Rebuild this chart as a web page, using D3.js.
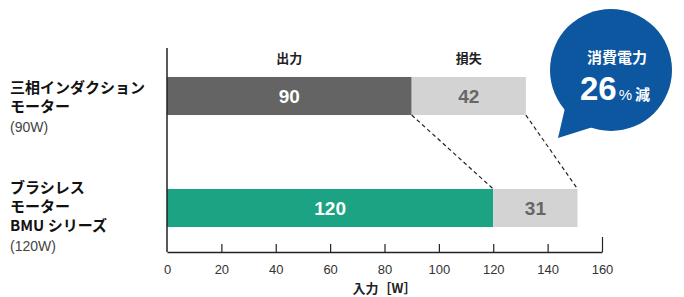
<!DOCTYPE html>
<html lang="ja">
<head>
<meta charset="UTF-8">
<title>消費電力比較</title>
<script src="https://d3js.org/d3.v7.min.js"></script>
<style>
  body { margin: 0; background: #fff; }
  svg { display: block; }
</style>
</head>
<body>
<svg></svg>
<script>
// Data

const motors = ['induction', 'bmu'];
const motorLabels = [
  ['三相インダクション', 'モーター'],
  ['ブラシレス', 'モーター', 'BMU シリーズ']
];
const ratedLabels = ['(90W)', '(120W)'];
const outputW = [90, 120];
const lossW = [42, 31];
const xTicks = [0, 20, 40, 60, 80, 100, 120, 140, 160];
const seriesNames = ['出力', '損失'];
const reduction = 26;

// Layout

const width = 684, height = 297;
const JP = '"Noto Sans CJK JP", "Noto Sans", sans-serif';
const NUM = '"Liberation Sans", Arial, sans-serif';

const svg = d3.select('svg')
  .attr('width', width)
  .attr('height', height);

const x = d3.scaleLinear().domain([0, 160]).range([167, 602]);
const y = d3.scaleBand()
  .domain(motors)
  .range([40, 264])
  .paddingInner(0.66)
  .paddingOuter(0.33);

const axisY = 252;

// Bars

const rows = motors.map((m, i) => ({ id: m, out: outputW[i], loss: lossW[i], i }));
const outColors = ['#636463', '#1ba383'];

const g = svg.append('g');

g.selectAll('rect.out')
  .data(rows)
  .join('rect')
    .attr('class', 'out')
    .attr('x', x(0))
    .attr('y', d => y(d.id))
    .attr('width', d => x(d.out) - x(0))
    .attr('height', y.bandwidth())
    .attr('fill', d => outColors[d.i]);

g.selectAll('rect.loss')
  .data(rows)
  .join('rect')
    .attr('class', 'loss')
    .attr('x', d => x(d.out))
    .attr('y', d => y(d.id))
    .attr('width', d => x(d.out + d.loss) - x(d.out))
    .attr('height', y.bandwidth())
    .attr('fill', '#d3d3d3');

// Bar values

g.selectAll('text.outv')
  .data(rows)
  .join('text')
    .attr('x', d => (x(0) + x(d.out)) / 2)
    .attr('y', d => y(d.id) + y.bandwidth() / 2)
    .attr('dy', '0.36em')
    .attr('text-anchor', 'middle')
    .attr('fill', '#fff')
    .style('font', `bold 19px ${NUM}`)
    .text(d => d.out);

g.selectAll('text.lossv')
  .data(rows)
  .join('text')
    .attr('x', d => (x(d.out) + x(d.out + d.loss)) / 2)
    .attr('y', d => y(d.id) + y.bandwidth() / 2)
    .attr('dy', '0.36em')
    .attr('text-anchor', 'middle')
    .attr('fill', '#666')
    .style('font', `bold 19px ${NUM}`)
    .text(d => d.loss);

// Series names above first bar

const r0 = rows[0];
[[0, r0.out], [r0.out, r0.out + r0.loss]].forEach((seg, k) => {
  svg.append('text')
    .attr('x', (x(seg[0]) + x(seg[1])) / 2)
    .attr('y', 58)
    .attr('dy', '0.36em')
    .attr('text-anchor', 'middle')
    .attr('fill', '#222')
    .style('font', `bold 13px ${JP}`)
    .text(seriesNames[k]);
});

// Dashed connectors

const r1 = rows[1];
[[r0.out, r1.out], [r0.out + r0.loss, r1.out + r1.loss]].forEach(p => {
  svg.append('line')
    .attr('x1', x(p[0]))
    .attr('y1', y(r0.id) + y.bandwidth())
    .attr('x2', x(p[1]))
    .attr('y2', y(r1.id))
    .attr('stroke', '#222')
    .attr('stroke-width', 1.2)
    .attr('stroke-dasharray', '4,3');
});

// Axes

svg.append('line')
  .attr('x1', x(0)).attr('x2', x(0))
  .attr('y1', 48).attr('y2', axisY)
  .attr('stroke', '#222')
  .attr('stroke-width', 1.5);

const xAxis = svg.append('g')
  .attr('transform', `translate(0,${axisY})`)
  .call(d3.axisBottom(x).tickValues(xTicks).tickSize(-8).tickSizeOuter(0).tickPadding(13));

xAxis.select('.domain').attr('stroke', '#222').attr('stroke-width', 1.5);
xAxis.selectAll('.tick line').attr('stroke', '#222').attr('stroke-width', 1.2);
xAxis.selectAll('.tick').filter(d => d === 160).select('line').attr('y2', -15);
xAxis.selectAll('.tick').filter(d => d === 0).select('line').remove();
xAxis.selectAll('.tick text')
  .attr('fill', '#333')
  .style('font', `13px ${NUM}`);

svg.append('text')
  .attr('x', (x(0) + x(160)) / 2)
  .attr('y', 288)
  .attr('dy', '0.36em')
  .attr('text-anchor', 'middle')
  .attr('fill', '#222')
  .style('font', `bold 13px ${JP}`)
  .text('入力［W］');

// Left labels

rows.forEach(d => {
  const lines = motorLabels[d.i];
  const lineH = 19;
  const top = y(d.id) + 11 - (lines.length - 2) * 12;
  const t = svg.append('g');
  lines.forEach((ln, k) => {
    t.append('text')
      .attr('x', 10)
      .attr('y', top + k * lineH)
      .attr('dy', '0.36em')
      .attr('fill', '#111')
      .style('font', `bold 15px ${JP}`)
      .text(ln);
  });
  t.append('text')
    .attr('x', 10)
    .attr('y', top + lines.length * lineH + 1)
    .attr('dy', '0.36em')
    .attr('fill', '#444')
    .style('font', `14px ${NUM}`)
    .text(ratedLabels[d.i]);
});

// Speech bubble

const cx = 611, cy = 70, rad = 61;
const bubble = svg.append('g');
bubble.append('path')
  .attr('d', `M${cx - 46},${cy + 38} L558,138 L${cx - 18},${cy + 57} Z`)
  .attr('fill', '#0d56a0');
bubble.append('circle')
  .attr('cx', cx).attr('cy', cy).attr('r', rad)
  .attr('fill', '#0d56a0');
bubble.append('text')
  .attr('x', cx + 6).attr('y', 58)
  .attr('dy', '0.36em')
  .attr('text-anchor', 'middle')
  .attr('fill', '#fff')
  .style('font', `bold 15px ${JP}`)
  .text('消費電力');
const big = bubble.append('text')
  .attr('x', 580).attr('y', 100)
  .attr('fill', '#fff');
big.append('tspan')
  .style('font', `bold 33px ${NUM}`)
  .text(reduction);
big.append('tspan')
  .attr('dx', 2)
  .style('font', `15px ${NUM}`)
  .text('%');
big.append('tspan')
  .attr('dx', 3)
  .style('font', `bold 15px ${JP}`)
  .text('減');
</script>
</body>
</html>
